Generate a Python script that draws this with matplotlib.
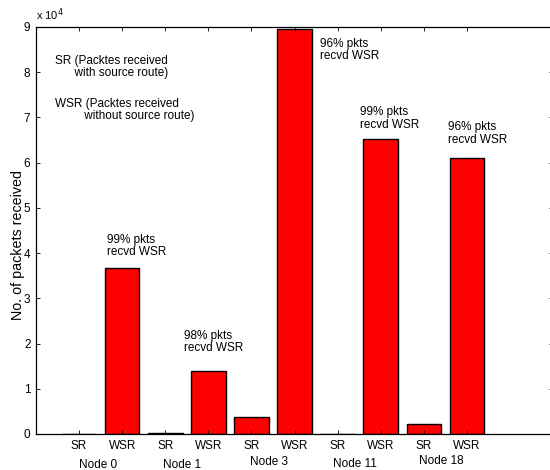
import matplotlib
matplotlib.use("Agg")
import matplotlib.pyplot as plt

plt.rcParams['font.family'] = ['Liberation Sans', 'DejaVu Sans']

# Packets received per node, with (SR) and without (WSR) source route
nodes = ["Node 0", "Node 1", "Node 3", "Node 11", "Node 18"]
sr_packets = [100, 300, 3700, 80, 2200]
wsr_packets = [36600, 14000, 89500, 65200, 61100]
pct_labels = ["99% pkts\nrecvd WSR", "98% pkts\nrecvd WSR", "96% pkts\nrecvd WSR",
              "99% pkts\nrecvd WSR", "96% pkts\nrecvd WSR"]
bar_labels = ["SR", "WSR"]
ytick_values = [0, 10000, 20000, 30000, 40000, 50000, 60000, 70000, 80000, 90000]
ytick_labels = ["0", "1", "2", "3", "4", "5", "6", "7", "8", "9"]

FS = 8.5

fig = plt.figure(figsize=(5.5, 4.7), dpi=100)
ax = fig.add_axes([0.0655, 0.0766, 0.94, 0.866])

values = []
xlabels = []
for s, w in zip(sr_packets, wsr_packets):
    values += [s, w]
    xlabels += bar_labels
positions = list(range(1, len(values) + 1))

ax.bar(positions, values, width=0.8, color="#ff0000", edgecolor="black", linewidth=1.0)

ax.set_xlim(0, 12)
ax.set_ylim(0, 90000)
ax.set_xticks(positions)
ax.set_xticklabels(xlabels, fontsize=FS)
ax.set_yticks(ytick_values)
ax.set_yticklabels(ytick_labels, fontsize=FS)
ax.tick_params(direction="in", top=True, right=True, length=3, width=0.6, pad=4)
for sp in ax.spines.values():
    sp.set_linewidth(0.9)

ax.set_ylabel("No. of packets received", fontsize=10.3)
ax.yaxis.set_label_coords(-0.022, 0.465)
ax.text(0.0, 1.01, "x 10$^4$", transform=ax.transAxes, fontsize=FS - 0.5, ha="left", va="bottom")

# Node group labels below the SR/WSR labels
node_x = [1.45, 3.4, 5.4, 7.4, 9.4]
node_y = [-6900, -6900, -6200, -6700, -5900]
for name, x, y in zip(nodes, node_x, node_y):
    ax.text(x, y, name, fontsize=FS, ha="center", va="center", clip_on=False)

# Percentage annotations next to the WSR bars
pct_x = [1.65, 3.44, 6.58, 7.53, 9.56]
pct_y = [41600, 20350, 84850, 69800, 66480]
for lab, x, y in zip(pct_labels, pct_x, pct_y):
    ax.text(x, y, lab, fontsize=FS, ha="left", va="center", linespacing=1.05)

# Explanatory notes
ax.text(0.44, 81200, "SR (Packtes received\n      with source route)", fontsize=FS,
        ha="left", va="center", linespacing=1.05)
ax.text(0.44, 71700, "WSR (Packtes received\n         without source route)", fontsize=FS,
        ha="left", va="center", linespacing=1.05)

fig.savefig("out.png", dpi=100)
